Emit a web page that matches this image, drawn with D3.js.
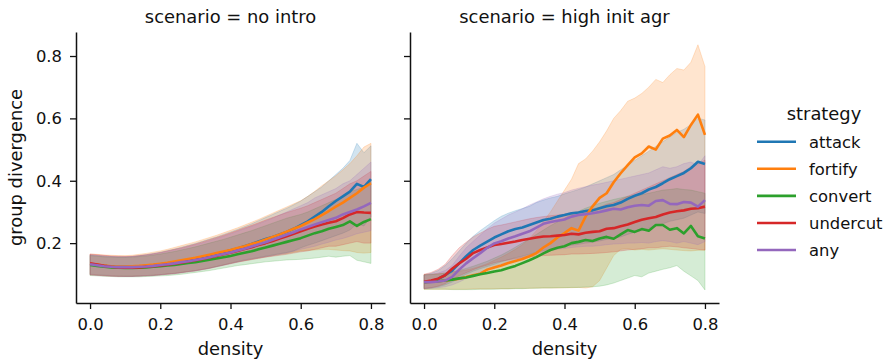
<!DOCTYPE html>
<html>
<head>
<meta charset="utf-8">
<script src="https://cdn.jsdelivr.net/npm/d3@7"></script>
<style>
  body { margin: 0; background: #fff; }
  text { font-family: "DejaVu Sans", sans-serif; fill: #111; }
</style>
</head>
<body>
<div id="chart"></div>
<script>
const density = [0.00,0.02,0.04,0.06,0.08,0.10,0.12,0.14,0.16,0.18,0.20,0.22,0.24,0.26,0.28,0.30,0.32,0.34,0.36,0.38,0.40,0.42,0.44,0.46,0.48,0.50,0.52,0.54,0.56,0.58,0.60,0.62,0.64,0.66,0.68,0.70,0.72,0.74,0.76,0.78,0.80];

const strategies = ["attack", "fortify", "convert", "undercut", "any"];
const scenarios = ["no intro", "high init agr"];
const xTicks = [0.0, 0.2, 0.4, 0.6, 0.8];
const yTicks = [0.2, 0.4, 0.6, 0.8];

// scenario = no intro : mean, lower, upper
const noIntroAttack   = [.132,.130,.127,.125,.124,.124,.124,.125,.127,.129,.132,.135,.138,.142,.146,.150,.155,.160,.165,.171,.177,.183,.190,.197,.205,.213,.220,.228,.236,.246,.258,.270,.285,.300,.318,.335,.350,.365,.390,.380,.405];
const noIntroAttackLo = [.100,.099,.097,.096,.095,.094,.094,.095,.096,.097,.099,.101,.103,.106,.109,.112,.116,.120,.125,.130,.136,.141,.146,.150,.154,.158,.162,.166,.170,.175,.185,.193,.200,.208,.216,.224,.232,.242,.262,.255,.285];
const noIntroAttackHi = [.162,.160,.158,.157,.156,.156,.157,.160,.163,.167,.171,.176,.181,.187,.193,.199,.206,.213,.220,.228,.236,.244,.253,.262,.272,.282,.292,.302,.312,.323,.335,.350,.365,.380,.400,.420,.440,.465,.520,.490,.512];
const noIntroFortify   = [.133,.131,.128,.126,.125,.125,.126,.127,.129,.131,.134,.137,.141,.145,.149,.153,.158,.163,.168,.173,.178,.184,.190,.197,.204,.212,.220,.228,.237,.246,.255,.266,.277,.290,.303,.317,.330,.345,.360,.378,.392];
const noIntroFortifyLo = [.098,.097,.096,.095,.094,.094,.094,.095,.096,.097,.099,.101,.103,.106,.109,.112,.116,.120,.125,.130,.135,.140,.144,.148,.152,.156,.160,.164,.167,.171,.175,.177,.178,.180,.180,.178,.176,.175,.170,.168,.170];
const noIntroFortifyHi = [.165,.164,.162,.161,.160,.160,.161,.164,.167,.171,.175,.180,.186,.192,.198,.204,.211,.218,.225,.233,.241,.249,.258,.267,.276,.286,.296,.306,.316,.326,.336,.350,.366,.384,.400,.416,.435,.455,.480,.508,.520];
const noIntroConvert   = [.130,.127,.124,.122,.121,.120,.120,.121,.122,.124,.126,.128,.130,.133,.136,.139,.143,.147,.151,.155,.159,.164,.169,.174,.180,.186,.192,.198,.204,.210,.216,.224,.232,.238,.246,.252,.258,.270,.255,.268,.277];
const noIntroConvertLo = [.096,.095,.094,.093,.092,.092,.092,.092,.093,.094,.095,.096,.098,.100,.103,.106,.109,.112,.116,.120,.124,.128,.131,.134,.137,.140,.142,.144,.146,.147,.148,.150,.152,.155,.158,.155,.158,.160,.145,.140,.135];
const noIntroConvertHi = [.160,.158,.156,.155,.154,.154,.155,.157,.159,.162,.165,.169,.173,.178,.183,.188,.194,.200,.206,.212,.219,.226,.233,.240,.248,.256,.264,.272,.280,.286,.292,.300,.310,.320,.330,.340,.350,.365,.372,.380,.400];
const noIntroUndercut   = [.135,.131,.127,.124,.122,.121,.121,.122,.124,.126,.128,.131,.134,.137,.141,.145,.149,.154,.159,.164,.169,.175,.181,.187,.194,.200,.207,.215,.222,.230,.238,.246,.253,.260,.265,.270,.280,.292,.300,.298,.297];
const noIntroUndercutLo = [.099,.097,.095,.094,.093,.093,.093,.094,.095,.096,.098,.100,.102,.105,.108,.111,.115,.119,.124,.129,.134,.139,.143,.147,.151,.155,.158,.161,.164,.168,.172,.175,.180,.185,.190,.190,.195,.200,.205,.200,.200];
const noIntroUndercutHi = [.165,.163,.161,.159,.158,.157,.158,.160,.163,.166,.170,.175,.180,.185,.191,.197,.204,.211,.218,.225,.233,.241,.249,.257,.265,.274,.282,.290,.298,.305,.312,.320,.330,.340,.350,.360,.375,.390,.400,.415,.430];
const noIntroAny   = [.132,.129,.126,.124,.123,.123,.123,.124,.125,.127,.130,.132,.135,.139,.142,.146,.150,.155,.160,.165,.170,.176,.182,.189,.196,.203,.211,.219,.227,.235,.244,.252,.260,.267,.274,.281,.292,.300,.308,.318,.329];
const noIntroAnyLo = [.098,.096,.095,.094,.093,.093,.093,.094,.095,.096,.098,.100,.102,.105,.108,.111,.115,.119,.124,.129,.134,.139,.144,.148,.152,.156,.160,.164,.168,.174,.180,.185,.190,.197,.203,.210,.215,.222,.230,.235,.240];
const noIntroAnyHi = [.163,.161,.159,.157,.156,.156,.157,.159,.162,.165,.169,.173,.178,.183,.189,.195,.201,.208,.215,.222,.230,.238,.246,.254,.262,.271,.280,.290,.300,.310,.320,.330,.345,.355,.365,.375,.390,.400,.420,.440,.460];

// scenario = high init agr : mean, lower, upper
const highInitAttack   = [.075,.078,.085,.097,.112,.135,.158,.178,.192,.205,.218,.228,.238,.245,.250,.258,.266,.274,.278,.285,.290,.296,.298,.303,.305,.312,.318,.322,.330,.342,.352,.360,.372,.380,.392,.405,.415,.425,.440,.461,.454];
const highInitAttackLo = [.055,.056,.060,.066,.075,.088,.100,.110,.118,.125,.132,.140,.147,.153,.158,.164,.170,.176,.180,.185,.189,.193,.196,.200,.203,.207,.212,.215,.220,.228,.235,.240,.248,.255,.262,.270,.275,.280,.290,.300,.295];
const highInitAttackHi = [.098,.103,.112,.128,.150,.175,.200,.222,.240,.256,.272,.286,.296,.304,.311,.318,.330,.338,.345,.350,.358,.365,.372,.380,.390,.400,.410,.420,.435,.450,.465,.480,.495,.510,.525,.540,.555,.565,.580,.600,.595];
const highInitFortify   = [.075,.076,.078,.080,.083,.086,.091,.097,.102,.115,.122,.128,.136,.143,.149,.158,.168,.186,.200,.218,.232,.248,.240,.285,.318,.345,.360,.395,.424,.450,.475,.488,.510,.500,.535,.545,.563,.540,.579,.612,.547];
const highInitFortifyLo = [.052,.052,.052,.052,.052,.052,.052,.053,.053,.053,.054,.054,.054,.055,.055,.055,.056,.056,.056,.056,.057,.057,.058,.056,.060,.080,.120,.160,.180,.182,.178,.180,.178,.180,.182,.180,.178,.176,.175,.177,.177];
const highInitFortifyHi = [.100,.100,.102,.104,.107,.110,.114,.119,.126,.134,.145,.155,.167,.180,.195,.215,.240,.270,.300,.335,.370,.405,.455,.470,.495,.525,.560,.600,.625,.655,.665,.680,.700,.725,.715,.740,.760,.755,.780,.836,.766];
const highInitConvert   = [.075,.076,.078,.080,.083,.087,.090,.095,.100,.104,.109,.113,.120,.127,.136,.145,.155,.167,.178,.185,.190,.200,.204,.210,.207,.215,.220,.214,.228,.242,.236,.245,.240,.258,.258,.243,.248,.231,.255,.222,.215];
const highInitConvertLo = [.052,.052,.052,.052,.051,.051,.051,.051,.052,.052,.052,.053,.053,.054,.054,.055,.055,.056,.056,.057,.057,.058,.058,.059,.060,.062,.066,.072,.080,.088,.096,.092,.104,.110,.116,.121,.128,.110,.095,.080,.050];
const highInitConvertHi = [.098,.099,.101,.104,.108,.113,.119,.126,.134,.142,.152,.162,.174,.187,.200,.214,.228,.242,.256,.268,.280,.292,.302,.312,.320,.328,.334,.340,.345,.350,.352,.355,.360,.365,.370,.372,.375,.372,.370,.365,.360];
const highInitUndercut   = [.076,.080,.086,.097,.118,.135,.150,.168,.178,.186,.194,.197,.201,.205,.210,.214,.218,.221,.222,.224,.226,.230,.228,.233,.236,.238,.246,.248,.254,.260,.268,.275,.280,.284,.292,.298,.302,.305,.310,.312,.317];
const highInitUndercutLo = [.054,.057,.062,.070,.083,.095,.105,.115,.123,.130,.137,.142,.146,.150,.153,.155,.158,.160,.161,.162,.163,.165,.165,.166,.167,.168,.170,.172,.175,.178,.180,.182,.185,.185,.188,.190,.188,.185,.183,.180,.178];
const highInitUndercutHi = [.100,.106,.116,.132,.160,.185,.203,.220,.232,.244,.254,.258,.263,.268,.273,.278,.282,.285,.288,.290,.293,.298,.300,.305,.310,.315,.325,.330,.340,.350,.360,.370,.380,.390,.400,.410,.420,.430,.445,.455,.466];
const highInitAny   = [.075,.075,.077,.080,.092,.115,.135,.152,.168,.185,.199,.206,.215,.222,.230,.238,.250,.262,.268,.272,.276,.285,.290,.293,.296,.300,.305,.310,.308,.315,.320,.322,.320,.335,.338,.326,.325,.332,.330,.317,.338];
const highInitAnyLo = [.054,.055,.057,.060,.066,.075,.086,.096,.106,.116,.126,.133,.140,.147,.154,.160,.166,.172,.177,.180,.183,.186,.188,.190,.190,.192,.195,.197,.198,.200,.200,.202,.200,.205,.208,.205,.200,.205,.200,.195,.205];
const highInitAnyHi = [.098,.100,.104,.112,.128,.158,.185,.206,.226,.246,.264,.277,.290,.300,.310,.322,.332,.342,.350,.357,.362,.370,.376,.381,.386,.390,.395,.400,.405,.410,.415,.420,.425,.435,.445,.440,.445,.455,.460,.450,.480];

const colors = ["#1f77b4", "#ff7f0e", "#2ca02c", "#d62728", "#9467bd"];

function series(mean, lo, hi) {
    return density.map((d, i) => ({ x: d, y: mean[i], lo: lo[i], hi: hi[i] }));
}

const panelData = [
    [series(noIntroAttack, noIntroAttackLo, noIntroAttackHi),
     series(noIntroFortify, noIntroFortifyLo, noIntroFortifyHi),
     series(noIntroConvert, noIntroConvertLo, noIntroConvertHi),
     series(noIntroUndercut, noIntroUndercutLo, noIntroUndercutHi),
     series(noIntroAny, noIntroAnyLo, noIntroAnyHi)],
    [series(highInitAttack, highInitAttackLo, highInitAttackHi),
     series(highInitFortify, highInitFortifyLo, highInitFortifyHi),
     series(highInitConvert, highInitConvertLo, highInitConvertHi),
     series(highInitUndercut, highInitUndercutLo, highInitUndercutHi),
     series(highInitAny, highInitAnyLo, highInitAnyHi)]
];

function relplot(element_id) {
    const svg = d3.select(`#${element_id}`)
        .append("svg")
        .attr("width", 896)
        .attr("height", 362);

    const top = 32, bottom = 303;
    const panels = [{ left: 76, right: 385 }, { left: 410, right: 719 }];

    const y = d3.scaleLinear()
        .domain([0.008, 0.877])
        .range([bottom, top]);

    panels.forEach((p, k) => {
        const x = d3.scaleLinear()
            .domain([-0.04, 0.84])
            .range([p.left, p.right]);

        const g = svg.append("g");

        const area = d3.area()
            .x(d => x(d.x))
            .y0(d => y(d.lo))
            .y1(d => y(d.hi));

        const line = d3.line()
            .x(d => x(d.x))
            .y(d => y(d.y));

        // bands sit under every line, like matplotlib's zorder
        panelData[k].forEach((d, i) => {
            g.append("path")
                .datum(d)
                .attr("fill", colors[i])
                .attr("fill-opacity", 0.2)
                .attr("stroke", colors[i])
                .attr("stroke-opacity", 0.2)
                .attr("stroke-width", 1)
                .attr("d", area);
        });

        panelData[k].forEach((d, i) => {
            g.append("path")
                .datum(d)
                .attr("fill", "none")
                .attr("stroke", colors[i])
                .attr("stroke-width", 2.6)
                .attr("stroke-linejoin", "round")
                .attr("d", line);
        });

        const xAxis = svg.append("g")
            .attr("transform", `translate(0,${bottom})`)
            .call(d3.axisBottom(x).tickValues(xTicks).tickFormat(d3.format(".1f"))
                .tickSize(6).tickSizeOuter(0).tickPadding(9));

        const yAxis = svg.append("g")
            .attr("transform", `translate(${p.left},0)`)
            .call(d3.axisLeft(y).tickValues(yTicks).tickFormat(k === 0 ? d3.format(".1f") : () => "")
                .tickSize(6).tickSizeOuter(0).tickPadding(8));

        [xAxis, yAxis].forEach(a => {
            a.select(".domain").attr("stroke", "#111").attr("stroke-width", 1.5);
            a.selectAll(".tick line").attr("stroke", "#111").attr("stroke-width", 1.3);
            a.selectAll(".tick text")
                .attr("font-family", "DejaVu Sans")
                .attr("font-size", "16.4px")
                .attr("fill", "#111");
        });

        svg.append("text")
            .attr("x", (p.left + p.right) / 2)
            .attr("y", 23)
            .attr("text-anchor", "middle")
            .attr("font-size", "17.9px")
            .text(`scenario = ${scenarios[k]}`);

        svg.append("text")
            .attr("x", (p.left + p.right) / 2)
            .attr("y", 355)
            .attr("text-anchor", "middle")
            .attr("font-size", "17.9px")
            .text("density");
    });

    svg.append("text")
        .attr("transform", "rotate(-90)")
        .attr("x", -(top + bottom) / 2)
        .attr("y", 21.5)
        .attr("text-anchor", "middle")
        .attr("font-size", "17.9px")
        .text("group divergence");

    // legend
    const legend = svg.append("g");
    legend.append("text")
        .attr("x", 824)
        .attr("y", 120)
        .attr("text-anchor", "middle")
        .attr("font-size", "17.9px")
        .text("strategy");

    const rowY = d3.scaleLinear().domain([0, 4]).range([141.7, 250]);
    strategies.forEach((s, i) => {
        legend.append("line")
            .attr("x1", 757).attr("x2", 796)
            .attr("y1", rowY(i)).attr("y2", rowY(i))
            .attr("stroke", colors[i])
            .attr("stroke-width", 2.6);
        legend.append("text")
            .attr("x", 809)
            .attr("y", rowY(i))
            .attr("dy", "0.36em")
            .attr("font-size", "16.4px")
            .text(s);
    });
}

relplot("chart");
</script>
</body>
</html>
